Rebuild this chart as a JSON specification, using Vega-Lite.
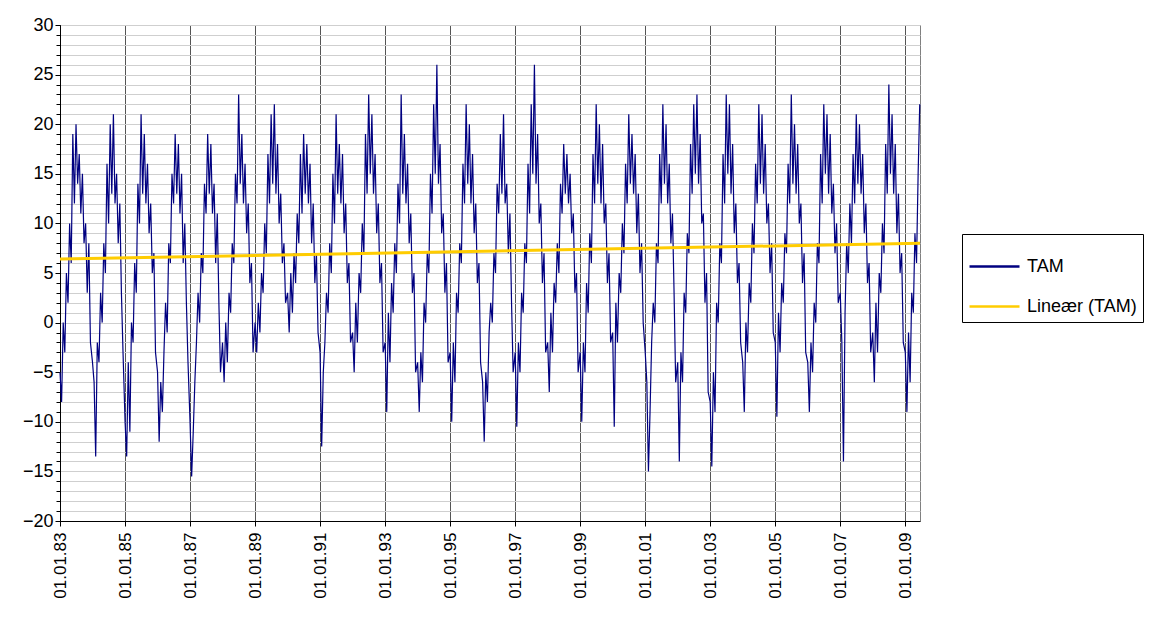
{
"$schema":"https://vega.github.io/schema/vega-lite/v6.json",
"autosize":"none","width":860,"height":496,
"padding":{"left":60,"top":25,"right":232,"bottom":100},
"background":"white",
"config":{"view":{"stroke":"#808080"},"font":"Liberation Sans",
 "axisY":{"title":null,"labelFontSize":18,"labelColor":"black","gridColor":"#555555","domainColor":"black","tickColor":"black","tickSize":5,"labelFlush":false,"labelOverlap":false}},
"datasets":{
"tam":[
{"d":"1983-01-01","t":-5},{"d":"1983-01-19","t":-8},{"d":"1983-02-06","t":0},{"d":"1983-02-24","t":-3},{"d":"1983-03-14","t":5},{"d":"1983-04-01","t":2},{"d":"1983-04-19","t":10},{"d":"1983-05-07","t":6},{"d":"1983-05-25","t":19},{"d":"1983-06-12","t":12},{"d":"1983-06-30","t":20},{"d":"1983-07-18","t":14},{"d":"1983-08-05","t":17},{"d":"1983-08-23","t":11},{"d":"1983-09-10","t":15},{"d":"1983-09-28","t":8},{"d":"1983-10-16","t":10},{"d":"1983-11-03","t":3},{"d":"1983-11-21","t":8},{"d":"1983-12-09","t":-2},
{"d":"1984-01-01","t":-4},{"d":"1984-01-19","t":-6},{"d":"1984-02-06","t":-13.5},{"d":"1984-02-24","t":-2},{"d":"1984-03-14","t":-4},{"d":"1984-04-01","t":3},{"d":"1984-04-19","t":0},{"d":"1984-05-07","t":8},{"d":"1984-05-25","t":5},{"d":"1984-06-12","t":16},{"d":"1984-06-30","t":10},{"d":"1984-07-18","t":20},{"d":"1984-08-05","t":13},{"d":"1984-08-23","t":21},{"d":"1984-09-10","t":12},{"d":"1984-09-28","t":15},{"d":"1984-10-16","t":8},{"d":"1984-11-03","t":12},{"d":"1984-11-21","t":3},{"d":"1984-12-09","t":-3},
{"d":"1985-01-01","t":-10},{"d":"1985-01-19","t":-13.5},{"d":"1985-02-06","t":-4},{"d":"1985-02-24","t":-11},{"d":"1985-03-14","t":0},{"d":"1985-04-01","t":-2},{"d":"1985-04-19","t":6},{"d":"1985-05-07","t":3},{"d":"1985-05-25","t":14},{"d":"1985-06-12","t":10},{"d":"1985-06-30","t":21},{"d":"1985-07-18","t":13},{"d":"1985-08-05","t":19},{"d":"1985-08-23","t":12},{"d":"1985-09-10","t":16},{"d":"1985-09-28","t":9},{"d":"1985-10-16","t":12},{"d":"1985-11-03","t":5},{"d":"1985-11-21","t":7},{"d":"1985-12-09","t":-3},
{"d":"1986-01-01","t":-5},{"d":"1986-01-19","t":-12},{"d":"1986-02-06","t":-6},{"d":"1986-02-24","t":-9},{"d":"1986-03-14","t":-3},{"d":"1986-04-01","t":2},{"d":"1986-04-19","t":-1},{"d":"1986-05-07","t":8},{"d":"1986-05-25","t":6},{"d":"1986-06-12","t":15},{"d":"1986-06-30","t":12},{"d":"1986-07-18","t":19},{"d":"1986-08-05","t":13},{"d":"1986-08-23","t":18},{"d":"1986-09-10","t":11},{"d":"1986-09-28","t":15},{"d":"1986-10-16","t":6},{"d":"1986-11-03","t":10},{"d":"1986-11-21","t":2},{"d":"1986-12-09","t":-4},
{"d":"1987-01-01","t":-10},{"d":"1987-01-19","t":-15.5},{"d":"1987-02-06","t":-11},{"d":"1987-02-24","t":-6},{"d":"1987-03-14","t":-2},{"d":"1987-04-01","t":3},{"d":"1987-04-19","t":0},{"d":"1987-05-07","t":7},{"d":"1987-05-25","t":5},{"d":"1987-06-12","t":14},{"d":"1987-06-30","t":11},{"d":"1987-07-18","t":19},{"d":"1987-08-05","t":13},{"d":"1987-08-23","t":18},{"d":"1987-09-10","t":11},{"d":"1987-09-28","t":14},{"d":"1987-10-16","t":6},{"d":"1987-11-03","t":11},{"d":"1987-11-21","t":2},{"d":"1987-12-09","t":-5},
{"d":"1988-01-01","t":-2},{"d":"1988-01-19","t":-6},{"d":"1988-02-06","t":0},{"d":"1988-02-24","t":-4},{"d":"1988-03-14","t":3},{"d":"1988-04-01","t":1},{"d":"1988-04-19","t":8},{"d":"1988-05-07","t":6},{"d":"1988-05-25","t":15},{"d":"1988-06-12","t":12},{"d":"1988-06-30","t":23},{"d":"1988-07-18","t":14},{"d":"1988-08-05","t":19},{"d":"1988-08-23","t":12},{"d":"1988-09-10","t":16},{"d":"1988-09-28","t":9},{"d":"1988-10-16","t":12},{"d":"1988-11-03","t":4},{"d":"1988-11-21","t":6},{"d":"1988-12-09","t":-3},
{"d":"1989-01-01","t":0},{"d":"1989-01-19","t":-3},{"d":"1989-02-06","t":2},{"d":"1989-02-24","t":-1},{"d":"1989-03-14","t":5},{"d":"1989-04-01","t":3},{"d":"1989-04-19","t":10},{"d":"1989-05-07","t":7},{"d":"1989-05-25","t":17},{"d":"1989-06-12","t":12},{"d":"1989-06-30","t":21},{"d":"1989-07-18","t":14},{"d":"1989-08-05","t":22},{"d":"1989-08-23","t":13},{"d":"1989-09-10","t":18},{"d":"1989-09-28","t":10},{"d":"1989-10-16","t":13},{"d":"1989-11-03","t":6},{"d":"1989-11-21","t":8},{"d":"1989-12-09","t":2},
{"d":"1990-01-01","t":3},{"d":"1990-01-19","t":-1},{"d":"1990-02-06","t":5},{"d":"1990-02-24","t":1},{"d":"1990-03-14","t":7},{"d":"1990-04-01","t":4},{"d":"1990-04-19","t":11},{"d":"1990-05-07","t":8},{"d":"1990-05-25","t":17},{"d":"1990-06-12","t":11},{"d":"1990-06-30","t":19},{"d":"1990-07-18","t":13},{"d":"1990-08-05","t":18},{"d":"1990-08-23","t":12},{"d":"1990-09-10","t":16},{"d":"1990-09-28","t":8},{"d":"1990-10-16","t":12},{"d":"1990-11-03","t":4},{"d":"1990-11-21","t":7},{"d":"1990-12-09","t":-1},
{"d":"1991-01-01","t":-3},{"d":"1991-01-19","t":-12.5},{"d":"1991-02-06","t":-5},{"d":"1991-02-24","t":-2},{"d":"1991-03-14","t":3},{"d":"1991-04-01","t":1},{"d":"1991-04-19","t":8},{"d":"1991-05-07","t":5},{"d":"1991-05-25","t":15},{"d":"1991-06-12","t":10},{"d":"1991-06-30","t":21},{"d":"1991-07-18","t":13},{"d":"1991-08-05","t":18},{"d":"1991-08-23","t":12},{"d":"1991-09-10","t":17},{"d":"1991-09-28","t":9},{"d":"1991-10-16","t":12},{"d":"1991-11-03","t":4},{"d":"1991-11-21","t":6},{"d":"1991-12-09","t":-2},
{"d":"1992-01-01","t":-1},{"d":"1992-01-19","t":-5},{"d":"1992-02-06","t":2},{"d":"1992-02-24","t":-2},{"d":"1992-03-14","t":5},{"d":"1992-04-01","t":3},{"d":"1992-04-19","t":10},{"d":"1992-05-07","t":7},{"d":"1992-05-25","t":19},{"d":"1992-06-12","t":13},{"d":"1992-06-30","t":23},{"d":"1992-07-18","t":15},{"d":"1992-08-05","t":21},{"d":"1992-08-23","t":13},{"d":"1992-09-10","t":17},{"d":"1992-09-28","t":9},{"d":"1992-10-16","t":12},{"d":"1992-11-03","t":4},{"d":"1992-11-21","t":6},{"d":"1992-12-09","t":-3},
{"d":"1993-01-01","t":-2},{"d":"1993-01-19","t":-9},{"d":"1993-02-06","t":1},{"d":"1993-02-24","t":-4},{"d":"1993-03-14","t":4},{"d":"1993-04-01","t":1},{"d":"1993-04-19","t":8},{"d":"1993-05-07","t":5},{"d":"1993-05-25","t":14},{"d":"1993-06-12","t":10},{"d":"1993-06-30","t":23},{"d":"1993-07-18","t":13},{"d":"1993-08-05","t":19},{"d":"1993-08-23","t":12},{"d":"1993-09-10","t":16},{"d":"1993-09-28","t":8},{"d":"1993-10-16","t":11},{"d":"1993-11-03","t":3},{"d":"1993-11-21","t":5},{"d":"1993-12-09","t":-5},
{"d":"1994-01-01","t":-4},{"d":"1994-01-19","t":-9},{"d":"1994-02-06","t":-3},{"d":"1994-02-24","t":-6},{"d":"1994-03-14","t":2},{"d":"1994-04-01","t":0},{"d":"1994-04-19","t":7},{"d":"1994-05-07","t":5},{"d":"1994-05-25","t":15},{"d":"1994-06-12","t":11},{"d":"1994-06-30","t":22},{"d":"1994-07-18","t":15},{"d":"1994-08-05","t":26},{"d":"1994-08-23","t":14},{"d":"1994-09-10","t":18},{"d":"1994-09-28","t":9},{"d":"1994-10-16","t":11},{"d":"1994-11-03","t":3},{"d":"1994-11-21","t":6},{"d":"1994-12-09","t":-4},
{"d":"1995-01-01","t":-3},{"d":"1995-01-19","t":-10},{"d":"1995-02-06","t":-2},{"d":"1995-02-24","t":-6},{"d":"1995-03-14","t":3},{"d":"1995-04-01","t":1},{"d":"1995-04-19","t":8},{"d":"1995-05-07","t":6},{"d":"1995-05-25","t":16},{"d":"1995-06-12","t":12},{"d":"1995-06-30","t":22},{"d":"1995-07-18","t":14},{"d":"1995-08-05","t":20},{"d":"1995-08-23","t":12},{"d":"1995-09-10","t":17},{"d":"1995-09-28","t":9},{"d":"1995-10-16","t":12},{"d":"1995-11-03","t":4},{"d":"1995-11-21","t":6},{"d":"1995-12-09","t":-4},
{"d":"1996-01-01","t":-6},{"d":"1996-01-19","t":-12},{"d":"1996-02-06","t":-5},{"d":"1996-02-24","t":-8},{"d":"1996-03-14","t":-1},{"d":"1996-04-01","t":2},{"d":"1996-04-19","t":0},{"d":"1996-05-07","t":7},{"d":"1996-05-25","t":5},{"d":"1996-06-12","t":14},{"d":"1996-06-30","t":11},{"d":"1996-07-18","t":19},{"d":"1996-08-05","t":13},{"d":"1996-08-23","t":21},{"d":"1996-09-10","t":12},{"d":"1996-09-28","t":14},{"d":"1996-10-16","t":7},{"d":"1996-11-03","t":11},{"d":"1996-11-21","t":2},{"d":"1996-12-09","t":-5},
{"d":"1997-01-01","t":-3},{"d":"1997-01-19","t":-10.5},{"d":"1997-02-06","t":-2},{"d":"1997-02-24","t":-5},{"d":"1997-03-14","t":3},{"d":"1997-04-01","t":1},{"d":"1997-04-19","t":8},{"d":"1997-05-07","t":6},{"d":"1997-05-25","t":16},{"d":"1997-06-12","t":11},{"d":"1997-06-30","t":22},{"d":"1997-07-18","t":15},{"d":"1997-08-05","t":26},{"d":"1997-08-23","t":14},{"d":"1997-09-10","t":19},{"d":"1997-09-28","t":10},{"d":"1997-10-16","t":12},{"d":"1997-11-03","t":4},{"d":"1997-11-21","t":7},{"d":"1997-12-09","t":-3},
{"d":"1998-01-01","t":-2},{"d":"1998-01-19","t":-7},{"d":"1998-02-06","t":1},{"d":"1998-02-24","t":-3},{"d":"1998-03-14","t":4},{"d":"1998-04-01","t":2},{"d":"1998-04-19","t":8},{"d":"1998-05-07","t":5},{"d":"1998-05-25","t":14},{"d":"1998-06-12","t":11},{"d":"1998-06-30","t":18},{"d":"1998-07-18","t":13},{"d":"1998-08-05","t":17},{"d":"1998-08-23","t":12},{"d":"1998-09-10","t":15},{"d":"1998-09-28","t":9},{"d":"1998-10-16","t":11},{"d":"1998-11-03","t":3},{"d":"1998-11-21","t":5},{"d":"1998-12-09","t":-5},
{"d":"1999-01-01","t":-3},{"d":"1999-01-19","t":-10},{"d":"1999-02-06","t":-2},{"d":"1999-02-24","t":-5},{"d":"1999-03-14","t":4},{"d":"1999-04-01","t":1},{"d":"1999-04-19","t":9},{"d":"1999-05-07","t":6},{"d":"1999-05-25","t":17},{"d":"1999-06-12","t":12},{"d":"1999-06-30","t":22},{"d":"1999-07-18","t":14},{"d":"1999-08-05","t":20},{"d":"1999-08-23","t":12},{"d":"1999-09-10","t":18},{"d":"1999-09-28","t":10},{"d":"1999-10-16","t":12},{"d":"1999-11-03","t":4},{"d":"1999-11-21","t":7},{"d":"1999-12-09","t":-2},
{"d":"2000-01-01","t":-1},{"d":"2000-01-19","t":-10.5},{"d":"2000-02-06","t":2},{"d":"2000-02-24","t":-2},{"d":"2000-03-14","t":5},{"d":"2000-04-01","t":3},{"d":"2000-04-19","t":10},{"d":"2000-05-07","t":7},{"d":"2000-05-25","t":16},{"d":"2000-06-12","t":12},{"d":"2000-06-30","t":21},{"d":"2000-07-18","t":14},{"d":"2000-08-05","t":19},{"d":"2000-08-23","t":13},{"d":"2000-09-10","t":17},{"d":"2000-09-28","t":9},{"d":"2000-10-16","t":13},{"d":"2000-11-03","t":5},{"d":"2000-11-21","t":8},{"d":"2000-12-09","t":0},
{"d":"2001-01-01","t":-3},{"d":"2001-01-19","t":-6},{"d":"2001-02-06","t":-15},{"d":"2001-02-24","t":-9},{"d":"2001-03-14","t":-2},{"d":"2001-04-01","t":2},{"d":"2001-04-19","t":0},{"d":"2001-05-07","t":8},{"d":"2001-05-25","t":6},{"d":"2001-06-12","t":17},{"d":"2001-06-30","t":12},{"d":"2001-07-18","t":22},{"d":"2001-08-05","t":14},{"d":"2001-08-23","t":20},{"d":"2001-09-10","t":12},{"d":"2001-09-28","t":16},{"d":"2001-10-16","t":8},{"d":"2001-11-03","t":11},{"d":"2001-11-21","t":3},{"d":"2001-12-09","t":-6},
{"d":"2002-01-01","t":-4},{"d":"2002-01-19","t":-14},{"d":"2002-02-06","t":-3},{"d":"2002-02-24","t":-6},{"d":"2002-03-14","t":3},{"d":"2002-04-01","t":1},{"d":"2002-04-19","t":9},{"d":"2002-05-07","t":7},{"d":"2002-05-25","t":18},{"d":"2002-06-12","t":13},{"d":"2002-06-30","t":22},{"d":"2002-07-18","t":15},{"d":"2002-08-05","t":23},{"d":"2002-08-23","t":14},{"d":"2002-09-10","t":19},{"d":"2002-09-28","t":10},{"d":"2002-10-16","t":11},{"d":"2002-11-03","t":2},{"d":"2002-11-21","t":5},{"d":"2002-12-09","t":-7},
{"d":"2003-01-01","t":-8},{"d":"2003-01-19","t":-14.5},{"d":"2003-02-06","t":-5},{"d":"2003-02-24","t":-9},{"d":"2003-03-14","t":2},{"d":"2003-04-01","t":0},{"d":"2003-04-19","t":8},{"d":"2003-05-07","t":6},{"d":"2003-05-25","t":17},{"d":"2003-06-12","t":12},{"d":"2003-06-30","t":23},{"d":"2003-07-18","t":15},{"d":"2003-08-05","t":22},{"d":"2003-08-23","t":13},{"d":"2003-09-10","t":18},{"d":"2003-09-28","t":9},{"d":"2003-10-16","t":12},{"d":"2003-11-03","t":4},{"d":"2003-11-21","t":6},{"d":"2003-12-09","t":-2},
{"d":"2004-01-01","t":-4},{"d":"2004-01-19","t":-9},{"d":"2004-02-06","t":0},{"d":"2004-02-24","t":-3},{"d":"2004-03-14","t":4},{"d":"2004-04-01","t":2},{"d":"2004-04-19","t":10},{"d":"2004-05-07","t":7},{"d":"2004-05-25","t":16},{"d":"2004-06-12","t":12},{"d":"2004-06-30","t":22},{"d":"2004-07-18","t":14},{"d":"2004-08-05","t":21},{"d":"2004-08-23","t":13},{"d":"2004-09-10","t":18},{"d":"2004-09-28","t":10},{"d":"2004-10-16","t":12},{"d":"2004-11-03","t":5},{"d":"2004-11-21","t":8},{"d":"2004-12-09","t":-1},
{"d":"2005-01-01","t":-2},{"d":"2005-01-19","t":-9.5},{"d":"2005-02-06","t":1},{"d":"2005-02-24","t":-3},{"d":"2005-03-14","t":4},{"d":"2005-04-01","t":2},{"d":"2005-04-19","t":9},{"d":"2005-05-07","t":7},{"d":"2005-05-25","t":16},{"d":"2005-06-12","t":12},{"d":"2005-06-30","t":23},{"d":"2005-07-18","t":14},{"d":"2005-08-05","t":20},{"d":"2005-08-23","t":13},{"d":"2005-09-10","t":18},{"d":"2005-09-28","t":10},{"d":"2005-10-16","t":12},{"d":"2005-11-03","t":4},{"d":"2005-11-21","t":7},{"d":"2005-12-09","t":-3},
{"d":"2006-01-01","t":-4},{"d":"2006-01-19","t":-9},{"d":"2006-02-06","t":-2},{"d":"2006-02-24","t":-5},{"d":"2006-03-14","t":2},{"d":"2006-04-01","t":0},{"d":"2006-04-19","t":8},{"d":"2006-05-07","t":6},{"d":"2006-05-25","t":17},{"d":"2006-06-12","t":12},{"d":"2006-06-30","t":22},{"d":"2006-07-18","t":15},{"d":"2006-08-05","t":21},{"d":"2006-08-23","t":13},{"d":"2006-09-10","t":19},{"d":"2006-09-28","t":11},{"d":"2006-10-16","t":14},{"d":"2006-11-03","t":7},{"d":"2006-11-21","t":10},{"d":"2006-12-09","t":2},
{"d":"2007-01-01","t":3},{"d":"2007-01-19","t":-2},{"d":"2007-02-06","t":-14},{"d":"2007-02-24","t":1},{"d":"2007-03-14","t":8},{"d":"2007-04-01","t":5},{"d":"2007-04-19","t":12},{"d":"2007-05-07","t":8},{"d":"2007-05-25","t":17},{"d":"2007-06-12","t":12},{"d":"2007-06-30","t":21},{"d":"2007-07-18","t":14},{"d":"2007-08-05","t":20},{"d":"2007-08-23","t":13},{"d":"2007-09-10","t":17},{"d":"2007-09-28","t":9},{"d":"2007-10-16","t":12},{"d":"2007-11-03","t":4},{"d":"2007-11-21","t":6},{"d":"2007-12-09","t":-3},
{"d":"2008-01-01","t":-1},{"d":"2008-01-19","t":-6},{"d":"2008-02-06","t":2},{"d":"2008-02-24","t":-3},{"d":"2008-03-14","t":5},{"d":"2008-04-01","t":3},{"d":"2008-04-19","t":10},{"d":"2008-05-07","t":7},{"d":"2008-05-25","t":18},{"d":"2008-06-12","t":13},{"d":"2008-06-30","t":24},{"d":"2008-07-18","t":15},{"d":"2008-08-05","t":21},{"d":"2008-08-23","t":13},{"d":"2008-09-10","t":18},{"d":"2008-09-28","t":9},{"d":"2008-10-16","t":13},{"d":"2008-11-03","t":5},{"d":"2008-11-21","t":7},{"d":"2008-12-09","t":-2},
{"d":"2009-01-01","t":-3},{"d":"2009-01-19","t":-9},{"d":"2009-02-06","t":-1},{"d":"2009-02-24","t":-6},{"d":"2009-03-14","t":3},{"d":"2009-04-01","t":1},{"d":"2009-04-19","t":9},{"d":"2009-05-07","t":6},{"d":"2009-05-25","t":15},{"d":"2009-06-12","t":22}
],
"trend":[{"d":"1983-01-01","t":6.4},{"d":"2009-06-15","t":8.0}]
},
"resolve":{"scale":{"y":"independent"},"axis":{"y":"independent"}},
"encoding":{
  "x":{"field":"d","type":"temporal","scale":{"domain":["1983-01-01","2009-06-15"]},
   "axis":{"title":null,"format":"%d.%m.%y","labelAngle":-90,"labelFontSize":17,"labelColor":"black","gridColor":"#555555","domainColor":"black","tickColor":"black","labelPadding":6,"labelOverlap":false,
    "values":[{"year":1983,"month":1,"date":1},{"year":1985,"month":1,"date":1},{"year":1987,"month":1,"date":1},{"year":1989,"month":1,"date":1},{"year":1991,"month":1,"date":1},{"year":1993,"month":1,"date":1},{"year":1995,"month":1,"date":1},{"year":1997,"month":1,"date":1},{"year":1999,"month":1,"date":1},{"year":2001,"month":1,"date":1},{"year":2003,"month":1,"date":1},{"year":2005,"month":1,"date":1},{"year":2007,"month":1,"date":1},{"year":2009,"month":1,"date":1}]}}
},
"layer":[
{"data":{"name":"trend"},
 "mark":{"type":"line","opacity":0},
 "encoding":{"y":{"field":"t","type":"quantitative","scale":{"domain":[-20,30],"nice":false},
   "axis":{"orient":"left","labels":false,"domain":false,"tickCount":50,"gridColor":"#cfcfcf","tickSize":4,"tickColor":"black"}}}},
{"layer":[
{"data":{"name":"tam"},
 "mark":{"type":"line","strokeWidth":1.2},
 "encoding":{
  "y":{"field":"t","type":"quantitative","scale":{"domain":[-20,30],"nice":false},"axis":{"orient":"left","tickCount":10}},
  "color":{"datum":"TAM","type":"nominal","scale":{"domain":["TAM","Lineær (TAM)"],"range":["#000080","#FFCC00"]},
   "legend":{"title":null,"orient":"none","legendX":902,"legendY":209,"labelFontSize":18,"labelColor":"black","strokeColor":"black","padding":6,"symbolType":"stroke","symbolSize":2500,"symbolStrokeWidth":2.5,"rowPadding":4,"fillColor":"white","labelOffset":6}}}},
{"data":{"name":"trend"},
 "mark":{"type":"line","strokeWidth":3},
 "encoding":{"y":{"field":"t","type":"quantitative"},"color":{"datum":"Lineær (TAM)","type":"nominal"}}}
]}
]
}
